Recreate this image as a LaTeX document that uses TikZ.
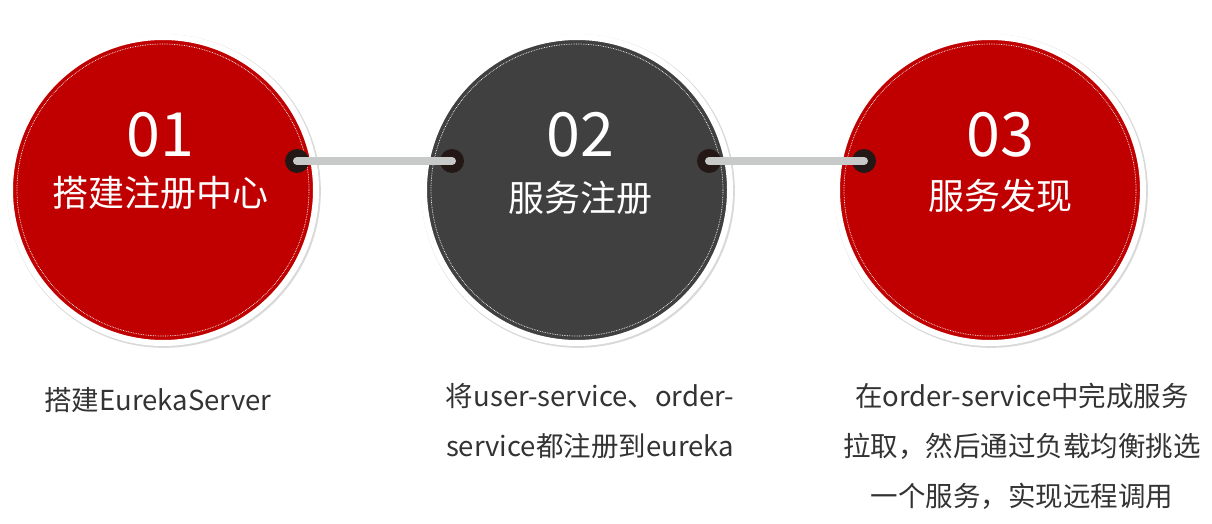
\documentclass[tikz,border=0pt]{standalone}
\usepackage{fontspec}
\setmainfont{Noto Sans CJK SC}
\usetikzlibrary{shadows}
\definecolor{cred}{HTML}{C00000}
\definecolor{cgray}{HTML}{404040}
\definecolor{cbar}{HTML}{C8C9C9}
\definecolor{cdot}{HTML}{231815}
\definecolor{ctxt}{HTML}{333333}
\begin{document}
\begin{tikzpicture}[x=1pt,y=-1pt,
  disc/.style={circle,minimum size=306pt,draw=white,line width=6pt,inner sep=0pt,
     drop shadow={shadow xshift=1pt,shadow yshift=-1pt,shadow scale=1.025,opacity=0.3}},
  num/.style={text=white,font=\fontsize{61}{64}\selectfont},
  ttl/.style={text=white,font=\fontsize{36}{40}\selectfont},
  desc/.style={text=ctxt,font=\fontsize{27.5}{50}\selectfont,align=center},
  dotn/.style={circle,fill=cdot,minimum size=24pt,inner sep=0pt},
  bar/.style={cbar,line width=8pt,line cap=round}]
\useasboundingbox (0,0) rectangle (1212,524);
\node[disc,fill=cred] (c1) at (163,190) {};
\node[disc,fill=cgray] (c2) at (577,190) {};
\node[disc,fill=cred] (c3) at (990,190) {};
\foreach \c in {c1,c2,c3}{
  \draw[white,densely dotted,line width=0.7pt] (\c) circle (146pt);
}
\node[num] (n1) at (160,135) {01};
\node[ttl] (t1) at (160,193) {搭建注册中心};
\node[num] (n2) at (580,135) {02};
\node[ttl] (t2) at (580,198) {服务注册};
\node[num] (n3) at (1000,135) {03};
\node[ttl] (t3) at (1000,196) {服务发现};
\node[dotn] (d1) at (297,161) {};
\node[dotn] (d2) at (452,161) {};
\node[dotn] (d3) at (709,161) {};
\node[dotn] (d4) at (864,161) {};
\draw[bar] (d1.center) -- (d2.center);
\draw[bar] (d3.center) -- (d4.center);
\node[desc] (e1) at (158,400) {搭建EurekaServer};
\node[desc,anchor=north] (e2) at (590,380) {将user-service、order-\\service都注册到eureka};
\node[desc,anchor=north] (e3) at (1022,380) {在order-service中完成服务\\拉取，然后通过负载均衡挑选\\一个服务，实现远程调用};
\end{tikzpicture}
\end{document}
